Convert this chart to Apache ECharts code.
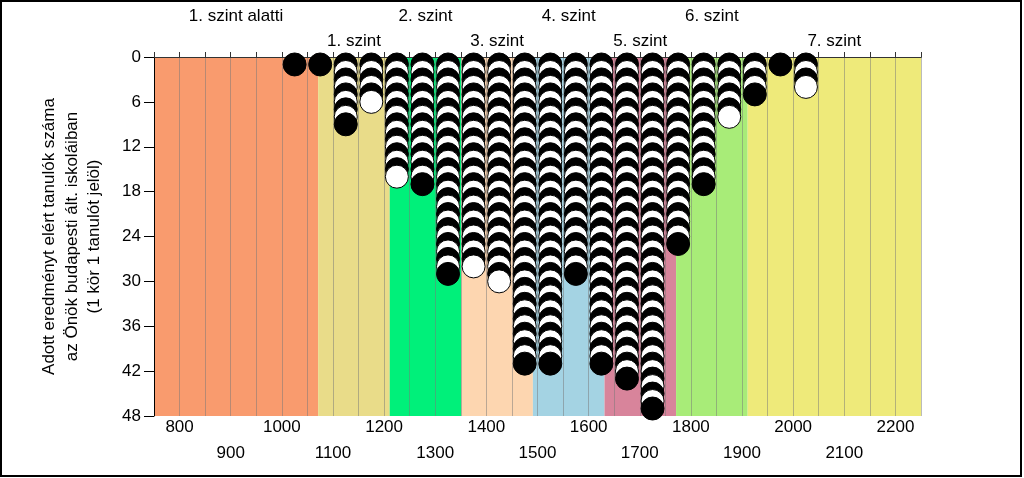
<!DOCTYPE html>
<html><head><meta charset="utf-8">
<script src="https://cdn.jsdelivr.net/npm/echarts@6/dist/echarts.min.js"></script>
<style>html,body{margin:0;padding:0;background:#fff}#c{width:1024px;height:478px}</style>
</head><body><div id="c"></div>
<script>
// Column centres (score bins of width 50) and number of students in each
const binCenters = [1025,1075,1125,1175,1225,1275,1325,1375,1425,1475,1525,1575,1625,1675,1725,1775,1825,1875,1925,1975,2025];
const binCounts  = [1,1,9,6,16,17,29,28,30,41,41,29,41,43,47,25,17,8,5,1,4];
// Proficiency level bands
const bandNames  = ['1. szint alatti','1. szint','2. szint','3. szint','4. szint','5. szint','6. szint','7. szint'];
const bandStarts = [750,1071,1211,1351,1491,1631,1771,1911];
const bandEnds   = [1071,1211,1351,1491,1631,1771,1911,2250];
const bandColors = ['#F99B6E','#E9DC89','#00F07A','#FDD6B0','#A4D3E3','#D8849B','#A8EC78','#EEEA7A'];
const yTicks = [0,6,12,18,24,30,36,42,48];

const FONT = 'Liberation Sans, Arial, sans-serif';
const FS = 17;
const pts = [];
binCenters.forEach((x, k) => {
  for (let i = 1; i <= binCounts[k]; i++) {
    pts.push({value: [x, i], itemStyle: {color: i % 2 ? '#000' : '#fff'}});
  }
});

const chart = echarts.init(document.getElementById('c'));
chart.setOption({
  animation: false,
  backgroundColor: '#fff',
  grid: {left: 154, top: 57, width: 767, height: 359},
  graphic: [{type: 'rect', shape: {x: 1, y: 1, width: 1020, height: 475}, style: {fill: 'none', stroke: '#000', lineWidth: 2}, z: 100}],
  xAxis: [
    {type: 'value', position: 'bottom', min: 750, max: 2250, interval: 50, z: 2,
     axisLine: {show: true, lineStyle: {color: '#000', width: 1}},
     axisTick: {show: true, inside: true, length: 4, lineStyle: {color: '#000'}},
     splitLine: {show: true, lineStyle: {color: 'rgba(120,120,120,0.5)', width: 1}},
     axisLabel: {margin: 3, fontSize: FS, color: '#000', fontFamily: FONT,
       formatter: v => (v % 200 === 0 ? String(v) : '')}},
    {type: 'value', position: 'bottom', min: 750, max: 2250, interval: 50,
     axisLine: {show: false}, axisTick: {show: false}, splitLine: {show: false},
     axisLabel: {margin: 29, fontSize: FS, color: '#000', fontFamily: FONT,
       formatter: v => (v % 200 === 100 ? String(v) : '')}},
    {type: 'value', position: 'top', min: 750, max: 2250, interval: 50, z: 2,
     axisLine: {show: true, lineStyle: {color: '#333', width: 1}},
     axisTick: {show: true, inside: false, length: 5, lineStyle: {color: '#333'}},
     splitLine: {show: false}, axisLabel: {show: false}}
  ],
  yAxis: {type: 'value', inverse: true, min: 0, max: 48, interval: 6, z: 2,
    name: 'Adott eredményt elért tanulók száma\naz Önök budapesti ált. iskoláiban\n(1 kör 1 tanulót jelöl)',
    nameLocation: 'middle', nameRotate: 90, nameGap: 48,
    nameTextStyle: {fontSize: FS, color: '#000', fontFamily: FONT, lineHeight: 22.5, align: 'center'},
    axisLine: {show: true, lineStyle: {color: '#000', width: 1}},
    axisTick: {show: true, length: 10, lineStyle: {color: '#000'}},
    splitLine: {show: false},
    axisLabel: {margin: 13, fontSize: FS, color: '#000', fontFamily: FONT,
      formatter: v => (yTicks.indexOf(v) >= 0 ? String(v) : '')}},
  series: [
    {type: 'custom', z: 1, clip: false, silent: true,
     data: bandStarts.map((s, i) => [s, bandEnds[i], i]),
     renderItem: (params, api) => {
       const s = api.value(0), e = api.value(1), idx = api.value(2);
       const p0 = api.coord([s, 0]);
       const p1 = api.coord([e, 48]);
       return {type: 'group', children: [
         {type: 'rect', shape: {x: p0[0], y: p0[1], width: p1[0] - p0[0], height: p1[1] - p0[1]},
          style: {fill: bandColors[idx]}},
         {type: 'text', style: {text: bandNames[idx], x: (p0[0] + p1[0]) / 2,
           y: p0[1] - (idx % 2 === 0 ? 41 : 16), align: 'center', verticalAlign: 'middle',
           font: FS + 'px ' + FONT, fill: '#000'}}
       ]};
     }},
    {type: 'scatter', z: 5, clip: false, silent: true, symbol: 'circle', symbolSize: 23,
     itemStyle: {borderColor: '#000', borderWidth: 1, opacity: 1},
     data: pts}
  ]
});
</script></body></html>
